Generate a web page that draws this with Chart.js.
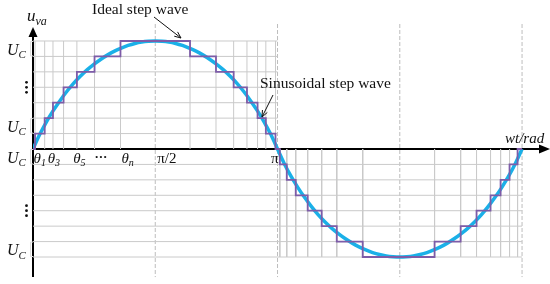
<!DOCTYPE html>
<html>
<head>
<meta charset="utf-8">
<script src="https://cdn.jsdelivr.net/npm/chart.js@4"></script>
<style>
  body { margin: 0; background: #fff; }
  #wrap { width: 550px; height: 284px; }
</style>
</head>
<body>
<div id="wrap"><canvas id="c" width="550" height="284"></canvas></div>
<script>
// x in degrees (0..360 = 0..2pi), y in multiples of U_C

// sinusoid, every 5 degrees
const sineX = [0, 5, 10, 15, 20, 25, 30, 35, 40, 45, 50, 55, 60, 65, 70, 75, 80, 85, 90,
               95, 100, 105, 110, 115, 120, 125, 130, 135, 140, 145, 150, 155, 160, 165, 170, 175, 180,
               185, 190, 195, 200, 205, 210, 215, 220, 225, 230, 235, 240, 245, 250, 255, 260, 265, 270,
               275, 280, 285, 290, 295, 300, 305, 310, 315, 320, 325, 330, 335, 340, 345, 350, 355, 360];
const sineY = [0, 0.95, 1.78, 2.5, 3.15, 3.74, 4.27, 4.73, 5.14, 5.5, 5.82, 6.1, 6.34, 6.54, 6.71, 6.84, 6.93, 6.98, 7,
               6.98, 6.93, 6.84, 6.71, 6.54, 6.34, 6.1, 5.82, 5.5, 5.14, 4.73, 4.27, 3.74, 3.15, 2.5, 1.78, 0.95, 0,
               -0.95, -1.78, -2.5, -3.15, -3.74, -4.27, -4.73, -5.14, -5.5, -5.82, -6.1, -6.34, -6.54, -6.71, -6.84, -6.93, -6.98, -7,
               -6.98, -6.93, -6.84, -6.71, -6.54, -6.34, -6.1, -5.82, -5.5, -5.14, -4.73, -4.27, -3.74, -3.15, -2.5, -1.78, -0.95, 0];

// step wave: switching angle and level after the switch
const stepX = [0, 1.5, 8.6, 14.7, 22.5, 32.3, 45.3, 64.4, 115.6, 134.7, 147.7, 157.5, 165.3, 171.4, 178.5,
               181.7, 186.8, 193.4, 202.2, 212.5, 223.6, 242.7, 295.6, 314.8, 326.5, 336.8, 344.2, 350.8, 356.7, 360];
const stepY = [0, 1, 2, 3, 4, 5, 6, 7, 6, 5, 4, 3, 2, 1, 0,
               -1, -2, -3, -4, -5, -6, -7, -6, -5, -4, -3, -2, -1, 0, 0];

// grid
const upperLevels = [1, 2, 3, 4, 5, 6, 7];
const lowerLevels = [-1, -2, -3, -4, -5, -6, -7];
const dashedX = [90, 180, 270, 360];

// axis labels
const xTickLabels = ['θ1', 'θ3', 'θ5', '···', 'θn', 'π/2', 'π'];
const xTickPos = [4.8, 15.2, 34, 50, 69.5, 98.5, 178];
const yTickLabels = ['U_C', '⋮', 'U_C', 'U_C', '⋮', 'U_C'];
const yTickPos = [6.5, 4, 1.5, -0.5, -4, -6.5];

const GRID = '#cacaca';
const PURPLE = '#7d5ca8';
const BLUE = '#1ab0e8';
const SERIF = '"Liberation Serif", "DejaVu Serif", serif';

// build segment lists (null separates segments)
function segments(pairs) {
    const out = [];
    pairs.forEach(([a, b]) => { out.push(a, b, { x: null, y: null }); });
    return out;
}
const upperX = stepX.filter((x, i) => i > 0 && stepY[i] >= 0 && stepY[i - 1] >= 0 && x < 180);
const lowerX = stepX.filter((x, i) => i > 0 && (stepY[i] < 0 || stepY[i - 1] < 0));

const hGrid = segments([
    ...upperLevels.map(l => [{ x: 0, y: l }, { x: 180, y: l }]),
    ...lowerLevels.map(l => [{ x: 0, y: l }, { x: 360, y: l }])
]);
const vGrid = segments([
    ...upperX.map(x => [{ x: x, y: 0 }, { x: x, y: 7 }]),
    ...lowerX.map(x => [{ x: x, y: 0 }, { x: x, y: -7 }])
]);
const dGrid = segments(dashedX.map(x => [{ x: x, y: 8.1 }, { x: x, y: -8.3 }]));

function subText(ctx, main, sub, x, y, size) {
    ctx.font = 'italic ' + size + 'px ' + SERIF;
    ctx.fillText(main, x, y);
    const w = ctx.measureText(main).width;
    ctx.font = 'italic ' + Math.round(size * 0.68) + 'px ' + SERIF;
    ctx.fillText(sub, x + w, y + size * 0.22);
}

function arrowLine(ctx, x1, y1, x2, y2, head) {
    ctx.beginPath();
    ctx.moveTo(x1, y1);
    ctx.lineTo(x2, y2);
    ctx.stroke();
    const a = Math.atan2(y2 - y1, x2 - x1);
    ctx.beginPath();
    ctx.moveTo(x2, y2);
    ctx.lineTo(x2 - head * Math.cos(a - 0.4), y2 - head * Math.sin(a - 0.4));
    ctx.moveTo(x2, y2);
    ctx.lineTo(x2 - head * Math.cos(a + 0.4), y2 - head * Math.sin(a + 0.4));
    ctx.stroke();
}

const decor = {
    id: 'decor',
    beforeDatasetsDraw(chart) {
        const ctx = chart.ctx;
        const xs = chart.scales.x, ys = chart.scales.y;
        const x0 = xs.getPixelForValue(0), y0 = ys.getPixelForValue(0);
        ctx.save();
        ctx.strokeStyle = '#000';
        ctx.lineWidth = 2;
        ctx.beginPath();
        ctx.moveTo(x0, ys.getPixelForValue(-8.3));
        ctx.lineTo(x0, 34);
        ctx.moveTo(x0, y0);
        ctx.lineTo(541, y0);
        ctx.stroke();
        ctx.fillStyle = '#000';
        ctx.beginPath();
        ctx.moveTo(x0, 27); ctx.lineTo(x0 - 4.5, 37); ctx.lineTo(x0 + 4.5, 37); ctx.closePath();
        ctx.fill();
        ctx.beginPath();
        ctx.moveTo(550, y0); ctx.lineTo(539, y0 - 4.5); ctx.lineTo(539, y0 + 4.5); ctx.closePath();
        ctx.fill();
        ctx.restore();
    },
    afterDraw(chart) {
        const ctx = chart.ctx;
        const xs = chart.scales.x, ys = chart.scales.y;
        const x0 = xs.getPixelForValue(0), y0 = ys.getPixelForValue(0);
        ctx.save();
        ctx.fillStyle = '#111';
        ctx.textBaseline = 'alphabetic';
        ctx.textAlign = 'left';

        // axis titles
        subText(ctx, 'u', 'va', 27, 21, 17);
        ctx.font = 'italic 15px ' + SERIF;
        ctx.fillText('wt/rad', 505, 143);

        // y labels and brackets
        yTickLabels.forEach((t, i) => {
            const y = ys.getPixelForValue(yTickPos[i]);
            if (t === '⋮') {
                // vertical ellipsis as three dots
                [-5, 0, 5].forEach(d => {
                    ctx.beginPath();
                    ctx.arc(26.5, y + d, 1.4, 0, Math.PI * 2);
                    ctx.fill();
                });
            } else {
                const p = t.split('_');
                subText(ctx, p[0], p[1], 7, y + 6, 16);
                const lo = Math.floor(yTickPos[i]), hi = lo + 1;
                ctx.strokeStyle = '#dddddd';
                ctx.lineWidth = 1;
                ctx.beginPath();
                ctx.moveTo(x0, ys.getPixelForValue(hi) + 0.5);
                ctx.lineTo(x0 - 2.5, ys.getPixelForValue(hi) + 0.5);
                ctx.lineTo(x0 - 2.5, ys.getPixelForValue(lo) - 0.5);
                ctx.lineTo(x0, ys.getPixelForValue(lo) - 0.5);
                ctx.stroke();
            }
        });

        // x labels
        xTickLabels.forEach((t, i) => {
            const x = xs.getPixelForValue(xTickPos[i]);
            const y = y0 + 14;
            if (t[0] === 'θ') {
                ctx.textAlign = 'left';
                subText(ctx, 'θ', t.slice(1), x - 6, y, 15);
            } else {
                ctx.textAlign = 'center';
                ctx.font = (t === '···' ? 'bold 13px ' : '15px ') + SERIF;
                ctx.fillText(t, x, t === '···' ? y - 2 : y);
            }
        });

        // annotations
        ctx.textAlign = 'left';
        ctx.font = '15.5px ' + SERIF;
        ctx.fillText('Ideal step wave', 92, 14);
        ctx.fillText('Sinusoidal step wave', 260, 88);
        ctx.strokeStyle = '#111';
        ctx.lineWidth = 1;
        arrowLine(ctx, 154, 17, 181, 38, 7);
        arrowLine(ctx, 273, 95, 262, 117, 7);
        ctx.restore();
    }
};

new Chart(document.getElementById('c'), {
    type: 'line',
    data: {
        datasets: [
            {
                data: stepX.map((x, i) => ({ x: x, y: stepY[i] })),
                stepped: 'before',
                borderColor: PURPLE,
                borderWidth: 1.8,
                pointRadius: 0,
                order: 1
            },
            {
                data: sineX.map((x, i) => ({ x: x, y: sineY[i] })),
                cubicInterpolationMode: 'monotone',
                borderColor: BLUE,
                borderWidth: 3.5,
                pointRadius: 0,
                order: 2
            },
            { data: hGrid, borderColor: GRID, borderWidth: 1, pointRadius: 0, spanGaps: false, order: 3 },
            { data: vGrid, borderColor: GRID, borderWidth: 1, pointRadius: 0, spanGaps: false, order: 4 },
            { data: dGrid, borderColor: '#bdbdbd', borderWidth: 1, borderDash: [4, 2], pointRadius: 0, spanGaps: false, order: 5 }
        ]
    },
    options: {
        responsive: false,
        devicePixelRatio: 1,
        animation: false,
        layout: { padding: { left: 33, right: 2, top: 20, bottom: 4 } },
        scales: {
            x: { type: 'linear', min: 0, max: 379.1, display: false },
            y: { type: 'linear', min: -8.49, max: 8.36, display: false }
        },
        plugins: { legend: { display: false }, tooltip: { enabled: false } }
    },
    plugins: [decor]
});
</script>
</body>
</html>
